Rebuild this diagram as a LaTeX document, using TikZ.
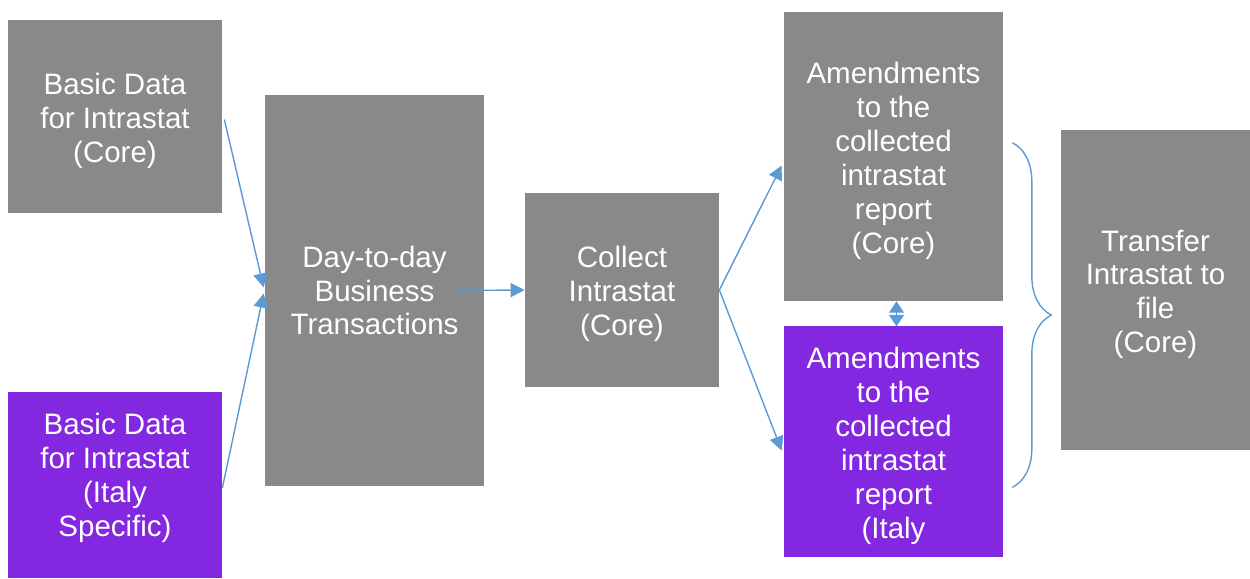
\documentclass[tikz,border=0pt]{standalone}
\usepackage{fontspec}
\setmainfont{Liberation Sans}
\usepackage{xcolor}
\usetikzlibrary{arrows.meta,calc,decorations.pathreplacing}
\definecolor{boxgray}{HTML}{898989}
\definecolor{boxpurple}{HTML}{8427E0}
\definecolor{arrblue}{HTML}{5B9BD5}
\newcommand{\topgap}{\rule{0pt}{17pt}}
\tikzset{box/.style={fill=boxgray,text=white,align=center,inner sep=0pt,
    font=\fontsize{16.8}{19.3}\selectfont},
  italy/.style={box,fill=boxpurple},
  arr/.style={-{Triangle[length=8pt,width=8pt]},arrblue,line width=0.8pt}}

\begin{document}
\begin{tikzpicture}[x=0.02cm,y=-0.02cm]
\useasboundingbox (0,0) rectangle (1250,578);
\node[box,minimum width=4.28cm,minimum height=3.86cm] (basic) at (115,116.5){\topgap Basic Data\\for Intrastat\\(Core)};
\node[italy,minimum width=4.28cm,minimum height=3.72cm] (basicit) at (115,485){\topgap Basic Data\\for Intrastat\\(Italy\\Specific)\rule[-16.5pt]{0pt}{0pt}};
\node[box,minimum width=4.38cm,minimum height=7.82cm] (daily) at (374.5,290.5){Day-to-day\\Business\\Transactions};
\node[box,minimum width=3.88cm,minimum height=3.88cm] (collect) at (622,290){\topgap Collect\\Intrastat\\(Core)};
\node[box,minimum width=4.38cm,minimum height=5.78cm] (amend) at (893.5,156.5){\topgap Amendments\\to the\\collected\\intrastat\\report\\(Core)};
\node[italy,minimum width=4.38cm,minimum height=4.62cm] (amendit) at (893.5,441.5){\topgap Amendments\\to the\\collected\\intrastat\\report\\(Italy};
\node[box,minimum width=3.78cm,minimum height=6.4cm] (transfer) at (1155.5,290){\topgap Transfer\\Intrastat to\\file\\(Core)};
\draw[arr] ($(basic.east)+(2,3)$) -- ($(daily.west)+(-1,-3)$);
\draw[arr] ($(basicit.east)+(0,3)$) -- ($(daily.west)+(-1,3)$);
\draw[arr] ($(daily.east)+(-31,0)$) -- (collect.west);
\draw[arr] (collect.east) -- ($(amend.west)+(-2,9)$);
\draw[arr] (collect.east) -- ($(amendit.west)+(-2,9)$);
\draw[{Triangle[length=6.5pt,width=8.5pt]}-{Triangle[length=6.5pt,width=8.5pt]},arrblue,line width=0.8pt]
  ($(amend.south)+(3,0)$) -- ($(amendit.south)+(3,-231)$);
% brace round both amendments
\coordinate (bracetop) at ($(amend.north east)+(9,131)$);
\coordinate (bracebot) at ($(amendit.south east)+(9,-70)$);
\draw[arrblue,line width=0.8pt,decorate,decoration={brace,amplitude=0.78cm}] (bracetop) -- (bracebot);
\end{tikzpicture}
\end{document}
